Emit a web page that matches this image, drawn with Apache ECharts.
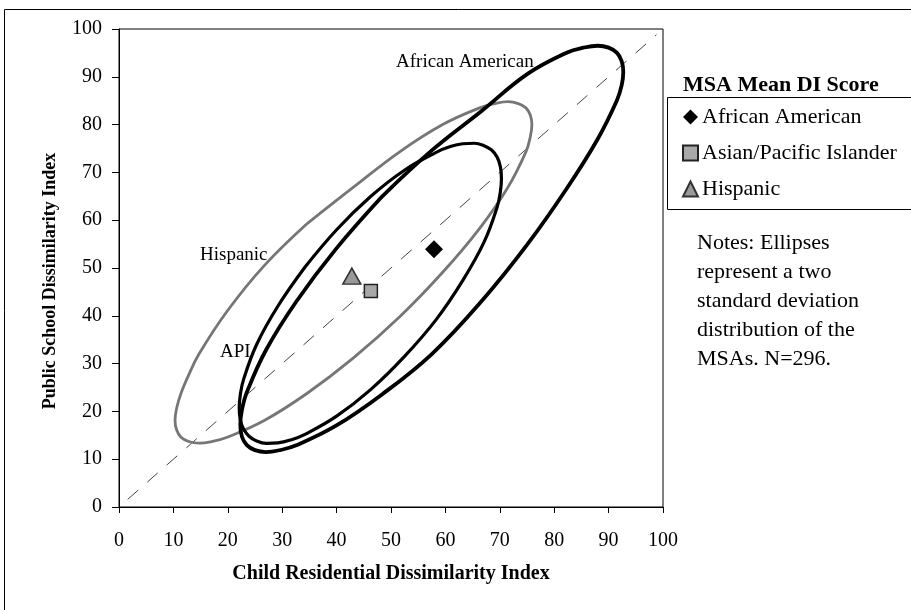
<!DOCTYPE html>
<html>
<head>
<meta charset="utf-8">
<title>Dissimilarity ellipses</title>
<script src="https://cdn.jsdelivr.net/npm/echarts/dist/echarts.min.js"></script>
<style>
  html, body { margin: 0; padding: 0; background: #fff; }
  #main { width: 911px; height: 610px; }
</style>
</head>
<body>
<div id="main"></div>
<script>
// values: [child residential DI, public school DI]
var xTicks = [0, 10, 20, 30, 40, 50, 60, 70, 80, 90, 100];
var yTicks = [0, 10, 20, 30, 40, 50, 60, 70, 80, 90, 100];

// two standard deviation ellipses, traced around the outline (more points at the tips)
var aaEllipse = [
  [48.4, 65.0], [39.9, 54.0], [32.6, 43.0], [27.0, 32.8], [23.5, 24.0], [22.6, 20.3],
  [22.3, 17.2], [22.6, 14.7], [23.5, 12.95], [25.0, 11.9], [27.0, 11.5], [29.6, 11.9],
  [32.6, 12.9], [39.9, 17.0], [48.4, 23.6], [57.5, 32.0], [66.6, 43.0], [75.1, 55.0],
  [82.4, 66.8], [88.0, 77.0], [91.5, 85.0], [92.4, 88.2], [92.7, 91.0], [92.4, 93.3],
  [91.5, 95.05], [90.0, 96.1], [88.0, 96.5], [85.4, 96.1], [82.4, 95.1], [75.1, 90.6],
  [66.6, 82.8], [57.5, 74.6], [48.4, 65.0]
];
var apiEllipse = [
  [34.2, 50.2], [29.2, 42.0], [25.3, 34.0], [22.9, 26.7], [22.3, 23.5], [22.1, 20.7],
  [22.3, 18.2], [22.9, 16.3], [23.9, 14.8], [25.3, 13.8], [27.1, 13.3], [29.2, 13.4],
  [31.5, 14.0], [34.2, 15.2], [40.0, 19.0], [46.2, 24.5], [52.4, 31.4], [58.3, 39.2],
  [63.2, 47.4], [67.1, 55.4], [69.5, 62.7], [70.1, 65.9], [70.3, 68.8], [70.1, 71.2],
  [69.5, 73.2], [68.5, 74.7], [67.1, 75.6], [65.3, 76.1], [63.2, 76.0], [60.9, 75.4],
  [58.3, 74.2], [52.4, 70.4], [46.2, 64.9], [40.0, 58.0], [34.2, 50.2]
];
var hispEllipse = [
  [34.6, 59.3], [26.7, 50.5], [19.9, 41.0], [14.7, 32.0], [12.8, 27.6], [11.4, 23.8],
  [10.6, 20.7], [10.3, 18.1], [10.6, 16.1], [11.4, 14.6], [12.8, 13.7], [14.7, 13.35],
  [17.1, 13.7], [19.9, 14.6], [26.7, 18.1], [34.6, 23.8], [43.1, 31.2], [51.6, 39.8],
  [59.5, 49.1], [66.3, 58.3], [71.5, 66.9], [74.8, 74.3], [75.6, 77.4], [75.9, 80.0],
  [75.6, 82.0], [74.8, 83.5], [73.4, 84.4], [71.5, 84.8], [69.1, 84.4], [66.3, 83.5],
  [59.5, 80.0], [51.6, 74.3], [43.1, 66.9], [34.6, 59.3]
];
var diagonal = [[1.6, 1.6], [98.8, 98.8]];

// MSA mean DI score
var aaMean = [[57.9, 53.9]];
var apiMean = [[46.3, 45.2]];
var hispMean = [[42.8, 48.3]];

var serif = "'Liberation Serif', 'Times New Roman', serif";

var chart = echarts.init(document.getElementById('main'), null, { renderer: 'canvas' });

function ellipseSeries(name, data, color, width) {
  return {
    name: name,
    type: 'line',
    data: data,
    smooth: 0.4,
    showSymbol: false,
    silent: true,
    z: 3,
    lineStyle: { color: color, width: width }
  };
}

var option = {
  backgroundColor: '#fff',
  animation: false,
  textStyle: { fontFamily: serif, color: '#000' },
  grid: {
    left: 119, right: 248, top: 29, bottom: 103,
    show: true, borderColor: '#000', borderWidth: 1
  },
  xAxis: {
    type: 'value', min: xTicks[0], max: xTicks[xTicks.length - 1], interval: 10,
    name: 'Child Residential Dissimilarity Index',
    nameLocation: 'middle', nameGap: 57,
    nameTextStyle: { fontFamily: serif, fontWeight: 'bold', fontSize: 20, color: '#000' },
    axisLine: { lineStyle: { color: '#000', width: 1 } },
    axisTick: { length: 6, lineStyle: { color: '#000' } },
    axisLabel: { fontFamily: serif, fontSize: 20, color: '#000', margin: 24 },
    splitLine: { show: false }
  },
  yAxis: {
    type: 'value', min: yTicks[0], max: yTicks[yTicks.length - 1], interval: 10,
    axisLine: { show: true, lineStyle: { color: '#000', width: 1 } },
    axisTick: { show: true, length: 7, lineStyle: { color: '#000' } },
    axisLabel: { fontFamily: serif, fontSize: 20, color: '#000', margin: 17 },
    splitLine: { show: false }
  },
  legend: {
    data: ['African American', 'Asian/Pacific Islander', 'Hispanic'],
    orient: 'vertical',
    left: 682, top: 106,
    itemGap: 14, itemWidth: 15, itemHeight: 15,
    padding: 0,
    textStyle: { fontFamily: serif, fontSize: 22, color: '#000', lineHeight: 22, padding: [0, 0, 0, -1] }
  },
  graphic: [
    // outer frame of the figure
    { type: 'rect', silent: true, shape: { x: 4.5, y: 9.5, width: 1000, height: 1000 },
      style: { fill: 'none', stroke: '#000', lineWidth: 1 } },
    // legend box
    { type: 'rect', silent: true, shape: { x: 667.5, y: 97.5, width: 300, height: 112 },
      style: { fill: 'none', stroke: '#000', lineWidth: 1 } },
    { type: 'text', silent: true, left: 683, top: 74,
      style: { text: 'MSA Mean DI Score', font: 'bold 22px ' + serif, fill: '#000' } },
    { type: 'text', silent: true, left: 697, top: 229,
      style: { text: 'Notes: Ellipses\nrepresent a two\nstandard deviation\ndistribution of the\nMSAs. N=296.',
               font: '22px ' + serif, fill: '#000', lineHeight: 29 } },
    // y axis title
    { type: 'text', silent: true, x: 50, y: 281, rotation: Math.PI / 2,
      style: { text: 'Public School Dissimilarity Index', font: 'bold 18px ' + serif, fill: '#000',
               align: 'center', verticalAlign: 'middle' } },
    // ellipse labels
    { type: 'text', silent: true, x: 396, y: 62,
      style: { text: 'African American', font: '19px ' + serif, fill: '#000', verticalAlign: 'middle' } },
    { type: 'text', silent: true, x: 200, y: 255,
      style: { text: 'Hispanic', font: '19px ' + serif, fill: '#000', verticalAlign: 'middle' } },
    { type: 'text', silent: true, x: 220, y: 352,
      style: { text: 'API', font: '19px ' + serif, fill: '#000', verticalAlign: 'middle' } }
  ],
  series: [
    {
      name: 'diagonal', type: 'line', data: diagonal, showSymbol: false, silent: true, z: 2,
      lineStyle: { color: '#444', width: 1, type: [14, 12] }
    },
    ellipseSeries('Hispanic ellipse', hispEllipse, '#767676', 2.8),
    ellipseSeries('API ellipse', apiEllipse, '#000', 3.2),
    ellipseSeries('African American ellipse', aaEllipse, '#000', 3.8),
    {
      name: 'African American', type: 'scatter', data: aaMean, symbol: 'diamond', symbolSize: 18, z: 5,
      itemStyle: { color: '#000', opacity: 1 }
    },
    {
      name: 'Asian/Pacific Islander', type: 'scatter', data: apiMean, symbol: 'rect', symbolSize: 13, z: 5,
      itemStyle: { color: '#a8a8a8', borderColor: '#222', borderWidth: 1.5, opacity: 1 }
    },
    {
      name: 'Hispanic', type: 'scatter', data: hispMean, symbol: 'triangle', symbolSize: [18, 16], z: 5,
      itemStyle: { color: '#999', borderColor: '#333', borderWidth: 1.5, opacity: 1 }
    }
  ]
};

chart.setOption(option);
</script>
</body>
</html>
